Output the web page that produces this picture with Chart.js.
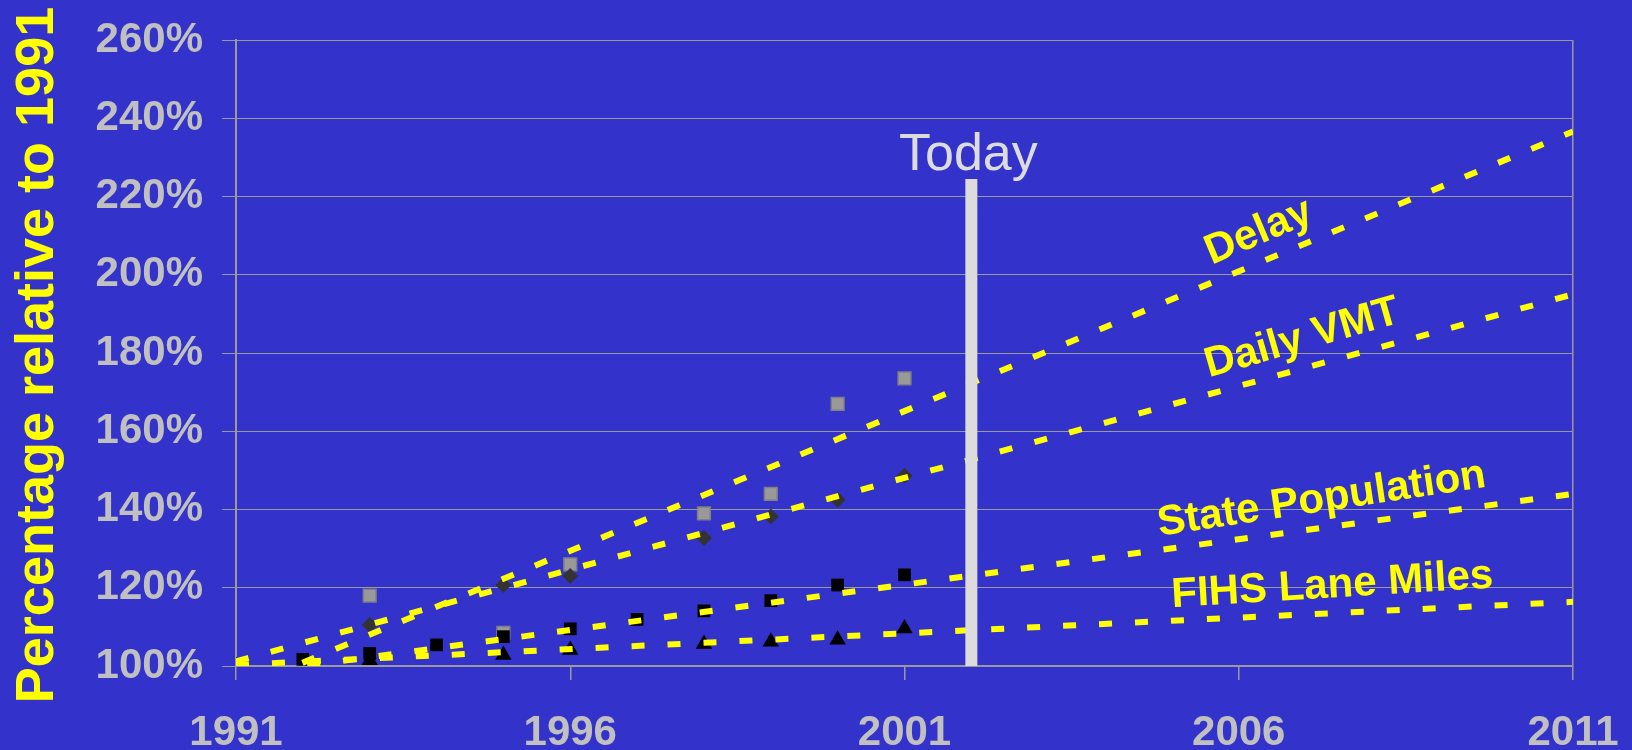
<!DOCTYPE html>
<html>
<head>
<meta charset="utf-8">
<script src="https://cdn.jsdelivr.net/npm/chart.js@4.4.1/dist/chart.umd.min.js"></script>
<style>
  html, body { margin: 0; padding: 0; background: #3333cc; }
  canvas { display: block; }
</style>
</head>
<body>
<canvas id="trendChart" width="1632" height="750"></canvas>
<script>
var years = [1991, 1992, 1993, 1994, 1995, 1996, 1997, 1998, 1999, 2000, 2001];
var delay = [100, null, 118, null, 108.5, 126, null, 139, 144, 167, 173.5];
var dailyVmt = [100, null, 110.5, null, 120.7, 123, null, 132.7, 138.2, 142.5, 148.6];
var statePopulation = [100, 101.7, 103.2, 105.4, 107.5, 109.5, 111.9, 114.1, 116.7, 120.7, 123.3];
var fihsLaneMiles = [100, null, 101.5, null, 102.8, 104.1, null, 105.6, 106.2, 106.7, 109.6];

// trend lines, value at the first and the last year
var trendYears = [1991, 2011];
var delayTrend = [93.7, 236.6];
var vmtTrend = [101.2, 195];
var populationTrend = [97.6, 144];
var fihsTrend = [100.3, 116.4];

var todayYear = 2002;
var todayRange = [100, 224.5];

var xTicks = [1991, 1996, 2001, 2006, 2011];
var yTicks = [100, 120, 140, 160, 180, 200, 220, 240, 260];

var FONT = '"Liberation Sans", Arial, sans-serif';
var gridGray = '#9a9a9a';
var labelGray = '#c0c0c0';
var yellow = '#ffff00';

// series names written along the trend lines (year, value, angle)
var seriesNames = [
  { text: 'Delay', x: 2006.3, y: 210.9, angle: -23 },
  { text: 'Daily VMT', x: 2006.95, y: 183.7, angle: -16 },
  { text: 'State Population', x: 2007.24, y: 142.5, angle: -8.5 },
  { text: 'FIHS Lane Miles', x: 2007.4, y: 120.5, angle: -3.5 }
];

function pts(xs, ys) {
  var out = [];
  for (var i = 0; i < xs.length; i++) {
    if (ys[i] !== null) out.push({ x: xs[i], y: ys[i] });
  }
  return out;
}

function trend(vals) {
  return {
    data: pts(trendYears, vals),
    showLine: true,
    borderColor: yellow,
    borderWidth: 6,
    borderDash: [13, 23],
    borderCapStyle: 'butt',
    pointRadius: 0,
    clip: 0,
    order: 1
  };
}

var bluePlugin = {
  id: 'blueBack',
  beforeDraw: function(chart) {
    var ctx = chart.ctx;
    ctx.save();
    ctx.fillStyle = '#3333cc';
    ctx.fillRect(0, 0, chart.width, chart.height);
    ctx.restore();
  }
};

var textPlugin = {
  id: 'texts',
  afterDatasetsDraw: function(chart) {
    var ctx = chart.ctx;
    var xs = chart.scales.x, ys = chart.scales.y;
    ctx.save();

    // Today
    ctx.font = '52px ' + FONT;
    ctx.fillStyle = '#dcdcdc';
    ctx.textAlign = 'center';
    ctx.textBaseline = 'alphabetic';
    ctx.fillText('Today', xs.getPixelForValue(todayYear) - 3, ys.getPixelForValue(todayRange[1]) - 9);

    // names on trend lines
    ctx.font = 'bold 42px ' + FONT;
    ctx.fillStyle = yellow;
    ctx.textBaseline = 'middle';
    seriesNames.forEach(function(s) {
      ctx.save();
      ctx.translate(xs.getPixelForValue(s.x), ys.getPixelForValue(s.y));
      ctx.rotate(s.angle * Math.PI / 180);
      ctx.fillText(s.text, 0, 0);
      ctx.restore();
    });

    // y axis title
    ctx.font = 'bold 54px ' + FONT;
    ctx.textBaseline = 'alphabetic';
    ctx.translate(53, (chart.chartArea.top + chart.chartArea.bottom) / 2 + 2);
    ctx.rotate(-Math.PI / 2);
    ctx.fillText('Percentage relative to 1991', 0, 0);
    ctx.restore();
  }
};

new Chart(document.getElementById('trendChart').getContext('2d'), {
  type: 'scatter',
  data: {
    datasets: [
      {
        type: 'line',
        data: pts([todayYear, todayYear], todayRange),
        borderColor: '#dcdcdc',
        borderWidth: 12,
        borderCapStyle: 'butt',
        pointRadius: 0,
        clip: 0,
        order: 0
      },
      trend(delayTrend),
      trend(vmtTrend),
      trend(populationTrend),
      trend(fihsTrend),
      {
        data: pts(years, fihsLaneMiles),
        pointStyle: 'triangle',
        pointRadius: 9.5,
        backgroundColor: '#000000',
        borderColor: '#000000',
        borderWidth: 0,
        order: 2
      },
      {
        data: pts(years, statePopulation),
        pointStyle: 'rect',
        pointRadius: 9,
        backgroundColor: '#000000',
        borderColor: '#000000',
        borderWidth: 0,
        order: 3
      },
      {
        data: pts(years, dailyVmt),
        pointStyle: 'rectRot',
        pointRadius: 8,
        backgroundColor: '#333333',
        borderColor: '#333333',
        borderWidth: 0,
        order: 4
      },
      {
        data: pts(years, delay),
        pointStyle: 'rect',
        pointRadius: 9,
        backgroundColor: '#999999',
        borderColor: '#808080',
        borderWidth: 1.5,
        order: 5
      }
    ]
  },
  options: {
    responsive: false,
    animation: false,
    devicePixelRatio: 1,
    layout: { padding: { top: 40, right: 59, bottom: 0, left: 0 } },
    plugins: {
      legend: { display: false },
      tooltip: { enabled: false }
    },
    scales: {
      x: {
        type: 'linear',
        min: 1991,
        max: 2011,
        afterBuildTicks: function(scale) {
          scale.ticks = xTicks.map(function(v) { return { value: v }; });
        },
        afterFit: function(scale) {
          scale.height = 84;
          scale.paddingLeft = 0;
          scale.paddingRight = 0;
        },
        grid: {
          color: function(c) { return c.index === xTicks.length - 1 ? gridGray : 'transparent'; },
          tickColor: gridGray,
          tickLength: 14,
          lineWidth: 1.5
        },
        border: { color: gridGray, width: 2 },
        ticks: {
          color: labelGray,
          font: { family: FONT, size: 42, weight: 'bold' },
          padding: 28,
          maxRotation: 0,
          autoSkip: false,
          callback: function(v) { return String(v); }
        }
      },
      y: {
        min: 100,
        max: 260,
        afterBuildTicks: function(scale) {
          scale.ticks = yTicks.map(function(v) { return { value: v }; });
        },
        afterFit: function(scale) {
          scale.width = 236;
          scale.paddingTop = 0;
          scale.paddingBottom = 0;
        },
        grid: {
          color: gridGray,
          tickColor: gridGray,
          tickLength: 14,
          lineWidth: 1
        },
        border: { color: gridGray, width: 2 },
        ticks: {
          color: labelGray,
          font: { family: FONT, size: 42, weight: 'bold' },
          padding: 19,
          autoSkip: false,
          callback: function(v) { return v + '%'; }
        }
      }
    }
  },
  plugins: [bluePlugin, textPlugin]
});
</script>
</body>
</html>
